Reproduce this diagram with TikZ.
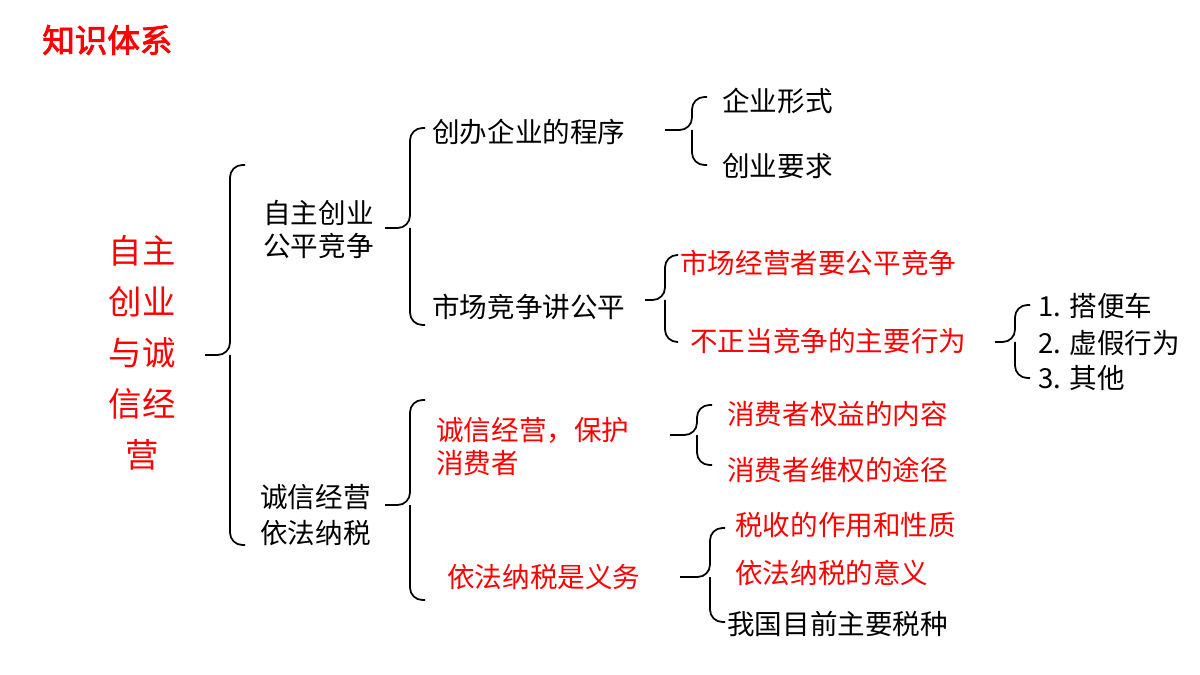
\documentclass[tikz,border=0pt]{standalone}
\usepackage{fontspec}
\setmainfont{Noto Sans CJK SC}
\begin{document}
\begin{tikzpicture}[x=0.02cm,y=-0.02cm,
  t/.style={anchor=west,inner sep=0,font=\fontsize{15.7}{17}\selectfont},
  r/.style={t,text=red},
  br/.style={line width=1pt,rounded corners=7pt}]
\useasboundingbox (0,0) rectangle (1200,675);
\node[anchor=west,inner sep=0,text=red,font=\fontsize{18.5}{20}\selectfont\addfontfeature{FakeBold=2.5}] (title) at (42,40) {知识体系};
\node[align=center,inner sep=0,text=red,font=\fontsize{19}{29}\selectfont] (main) at (142,353) {自主\\创业\\与诚\\信经\\营};
% braces
\newcommand{\brc}[6]{\draw[br] (#4,#2)--(#1,#2)--(#1,#6)--(#5,#6); \draw[br] (#1,#6)--(#1,#3)--(#4,#3);}
\brc{230}{165}{545}{245}{205}{355}
\brc{410}{128}{325}{425}{385}{228}
\brc{692}{97}{165}{707}{665}{130}
\brc{665}{255}{342}{678}{645}{300}
\brc{1015}{305}{378}{1030}{995}{342}
\brc{410}{400}{600}{425}{385}{505}
\brc{697}{405}{465}{712}{670}{435}
\brc{710}{528}{622}{725}{680}{577}
\node[t] (a) at (263,213) {自主创业};
\node[t] (a2) at (263,246) {公平竞争};
\node[t] (b) at (260,497) {诚信经营};
\node[t] (b2) at (260,533) {依法纳税};
\node[t] (c) at (432,132) {创办企业的程序};
\node[t] (c1) at (722,101) {企业形式};
\node[t] (c2) at (722,166) {创业要求};
\node[r] (d1) at (680,263) {市场经营者要公平竞争};
\node[t] (d) at (432,307) {市场竞争讲公平};
\node[r] (d2) at (690,341) {不正当竞争的主要行为};
\node[t] (e1) at (1038,306) {1. 搭便车};
\node[t] (e2) at (1038,343) {2. 虚假行为};
\node[t] (e3) at (1038,378) {3. 其他};
\node[r] (f) at (436,430) {诚信经营，保护};
\node[r] (f2) at (436,463) {消费者};
\node[r] (f3) at (727,414) {消费者权益的内容};
\node[r] (f4) at (727,470) {消费者维权的途径};
\node[r] (g) at (447,577) {依法纳税是义务};
\node[r] (g1) at (735,525) {税收的作用和性质};
\node[r] (g2) at (735,573) {依法纳税的意义};
\node[t] (g3) at (727,624) {我国目前主要税种};
\end{tikzpicture}
\end{document}
